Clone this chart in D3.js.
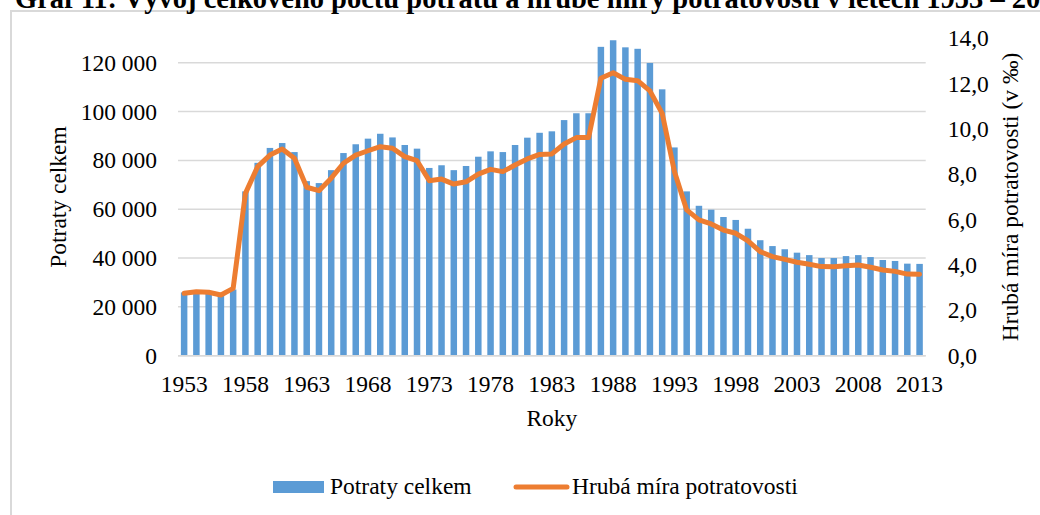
<!DOCTYPE html>
<html>
<head>
<meta charset="utf-8">
<script src="https://cdn.jsdelivr.net/npm/d3@7"></script>
<style>
  body { margin: 0; background: #fff; }
  svg { display: block; }
</style>
</head>
<body>
<div id="chart"></div>
<script>
const years = [
  1953, 1954, 1955, 1956, 1957, 1958, 1959, 1960, 1961, 1962, 1963, 1964, 1965,
  1966, 1967, 1968, 1969, 1970, 1971, 1972, 1973, 1974, 1975, 1976, 1977, 1978,
  1979, 1980, 1981, 1982, 1983, 1984, 1985, 1986, 1987, 1988, 1989, 1990, 1991,
  1992, 1993, 1994, 1995, 1996, 1997, 1998, 1999, 2000, 2001, 2002, 2003, 2004,
  2005, 2006, 2007, 2008, 2009, 2010, 2011, 2012, 2013,
];

// Potraty celkem
const abortions = [
  25900, 26000, 25900, 25400, 27100, 67300, 79000, 85100, 87100, 83400, 71500,
  70700, 76000, 83000, 86600, 88900, 90900, 89400, 86300, 84800, 76900, 78000,
  76000, 77700, 81500, 83700, 83400, 86300, 89300, 91300, 91900, 96500, 99300,
  99300, 126500, 129200, 126300, 125700, 119900, 109100, 85300, 67300, 61400,
  59800, 56800, 55600, 52000, 47300, 44900, 43600, 42200, 41200, 40000, 40000,
  40800, 41200, 40400, 39200, 38800, 37700, 37600,
];

// Hrubá míra potratovosti (v ‰)
const rate = [
  2.75, 2.82, 2.8, 2.68, 2.97, 7.16, 8.34, 8.85, 9.12, 8.71, 7.43, 7.28, 7.83,
  8.49, 8.85, 9.04, 9.22, 9.15, 8.78, 8.6, 7.72, 7.79, 7.57, 7.67, 8.01, 8.22,
  8.12, 8.41, 8.68, 8.88, 8.9, 9.34, 9.62, 9.62, 12.24, 12.48, 12.19, 12.13,
  11.68, 10.69, 8.12, 6.43, 5.99, 5.81, 5.54, 5.4, 5.07, 4.59, 4.37, 4.25, 4.12,
  4.03, 3.93, 3.92, 3.97, 4.0, 3.9, 3.78, 3.72, 3.6, 3.59,
];

const xTickYears = [1953, 1958, 1963, 1968, 1973, 1978, 1983, 1988, 1993, 1998, 2003, 2008, 2013];
const leftTicks = [0, 20000, 40000, 60000, 80000, 100000, 120000];
const rightTicks = [0, 2, 4, 6, 8, 10, 12, 14];

const title = "Graf 11: Vývoj celkového počtu potratů a hrubé míry potratovosti v letech 1953 – 2013";

const width = 1040;
const height = 515;
const plot = { left: 178, right: 925.7, top: 38.3, bottom: 355.7 };
const barColor = "#5b9bd5";
const lineColor = "#ed7d31";
const gridColor = "#d9d9d9";
const serif = "'Liberation Serif', 'Times New Roman', serif";
const fontSize = 23.5;

const cz = d3.formatLocale({ decimal: ",", thousands: "\u00a0", grouping: [3], currency: ["", ""] });
const fmtLeft = cz.format(",.0f");
const fmtRight = cz.format(".1f");

const svg = d3.select("#chart")
  .append("svg")
  .attr("width", width)
  .attr("height", height)
  .attr("font-family", serif)
  .style("background", "#fff");

// chart frame (only top and left edges fall inside the picture)
svg.append("rect")
  .attr("x", 11)
  .attr("y", 11)
  .attr("width", width + 10)
  .attr("height", height + 10)
  .attr("fill", "#fff")
  .attr("stroke", gridColor)
  .attr("stroke-width", 2);

svg.append("text")
  .attr("x", 15)
  .attr("y", 8)
  .attr("font-weight", "bold")
  .attr("font-size", 28.5)
  .attr("fill", "#000")
  .text(title);

const x = d3.scaleBand()
  .domain(years)
  .range([plot.left, plot.right])
  .paddingInner(0.47)
  .paddingOuter(0.235);

const yLeft = d3.scaleLinear().domain([0, 130000]).range([plot.bottom, plot.top]);
const yRight = d3.scaleLinear().domain([0, 14]).range([plot.bottom, plot.top]);

// gridlines
svg.append("g")
  .selectAll("line")
  .data(leftTicks)
  .join("line")
  .attr("x1", plot.left)
  .attr("x2", plot.right)
  .attr("y1", (d) => yLeft(d))
  .attr("y2", (d) => yLeft(d))
  .attr("stroke", gridColor)
  .attr("stroke-width", 1.5);

// bars
svg.append("g")
  .selectAll("rect")
  .data(years)
  .join("rect")
  .attr("x", (d) => x(d))
  .attr("width", x.bandwidth())
  .attr("y", (d, i) => yLeft(abortions[i]))
  .attr("height", (d, i) => yLeft(0) - yLeft(abortions[i]))
  .attr("fill", barColor);

// line
const line = d3.line()
  .x((d, i) => x(years[i]) + x.bandwidth() / 2)
  .y((d) => yRight(d));

svg.append("path")
  .datum(rate)
  .attr("d", line)
  .attr("fill", "none")
  .attr("stroke", lineColor)
  .attr("stroke-width", 5)
  .attr("stroke-linejoin", "round")
  .attr("stroke-linecap", "round");

// axes
const leftAxis = svg.append("g")
  .attr("transform", `translate(${plot.left},0)`)
  .call(d3.axisLeft(yLeft).tickValues(leftTicks).tickFormat(fmtLeft).tickSize(0).tickPadding(21));

const rightAxis = svg.append("g")
  .attr("transform", `translate(${plot.right},0)`)
  .call(d3.axisRight(yRight).tickValues(rightTicks).tickFormat(fmtRight).tickSize(0).tickPadding(22));

const bottomAxis = svg.append("g")
  .attr("transform", `translate(0,${plot.bottom})`)
  .call(d3.axisBottom(x).tickValues(xTickYears).tickSize(0).tickPadding(20));

[leftAxis, rightAxis, bottomAxis].forEach((g) => {
  g.attr("font-family", serif).attr("font-size", fontSize);
  g.select(".domain").remove();
  g.selectAll("text").attr("fill", "#000");
});

svg.append("line")
  .attr("x1", plot.left)
  .attr("x2", plot.right)
  .attr("y1", plot.bottom)
  .attr("y2", plot.bottom)
  .attr("stroke", gridColor)
  .attr("stroke-width", 1.5);

// axis titles
svg.append("text")
  .attr("transform", `translate(66,${(plot.top + plot.bottom) / 2}) rotate(-90)`)
  .attr("text-anchor", "middle")
  .attr("font-size", fontSize)
  .text("Potraty celkem");

svg.append("text")
  .attr("transform", `translate(1018,${(plot.top + plot.bottom) / 2}) rotate(-90)`)
  .attr("text-anchor", "middle")
  .attr("font-size", fontSize)
  .text("Hrubá míra potratovosti (v ‰)");

svg.append("text")
  .attr("x", (plot.left + plot.right) / 2)
  .attr("y", 426)
  .attr("text-anchor", "middle")
  .attr("font-size", fontSize)
  .text("Roky");

// legend
const legend = svg.append("g").attr("transform", "translate(273,487)");
legend.append("rect")
  .attr("x", 0)
  .attr("y", -6)
  .attr("width", 51)
  .attr("height", 12)
  .attr("fill", barColor);
legend.append("text")
  .attr("x", 57)
  .attr("y", 7)
  .attr("font-size", fontSize)
  .text("Potraty celkem");
legend.append("line")
  .attr("x1", 243)
  .attr("x2", 294)
  .attr("y1", 0)
  .attr("y2", 0)
  .attr("stroke", lineColor)
  .attr("stroke-width", 5)
  .attr("stroke-linecap", "round");
legend.append("text")
  .attr("x", 299)
  .attr("y", 7)
  .attr("font-size", fontSize)
  .text("Hrubá míra potratovosti");
</script>
</body>
</html>
